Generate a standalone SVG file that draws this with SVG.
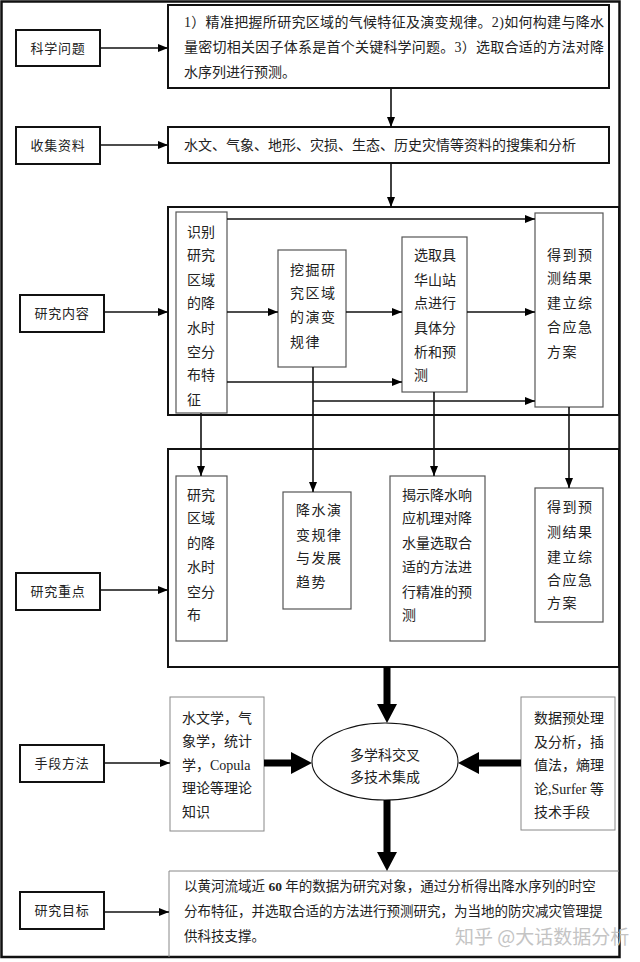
<svg xmlns="http://www.w3.org/2000/svg" width="640" height="962" viewBox="0 0 640 962">
<style>
.t{font-family:"Liberation Serif","Noto Sans CJK SC",serif;font-size:14px;fill:#222}
.lbl{font-family:"Liberation Serif","Noto Sans CJK SC",serif;font-size:13px;fill:#222;text-anchor:middle;letter-spacing:0.8px}
.sp{letter-spacing:1.5px}
.bk{fill:#fff;stroke:#111;stroke-width:2}
.cont{fill:none;stroke:#111;stroke-width:2}
.in{fill:#fff;stroke:#555;stroke-width:1.2}
.lt{fill:#fff;stroke:#888;stroke-width:1}
.c{fill:none;stroke:#111;stroke-width:1.6}
.thick{fill:#000}
.wm{font-family:"Noto Sans CJK SC",sans-serif;font-size:19px;fill:#c4c4c4}
</style>
<defs>
<marker id="ah" markerUnits="userSpaceOnUse" markerWidth="10" markerHeight="8" viewBox="0 0 10 8" refX="10" refY="4" orient="auto">
<path d="M0,0 L10,4 L0,8 z" fill="#000"/>
</marker>
</defs>
<rect x="0" y="0" width="640" height="962" fill="#fff"/>
<rect x="1.5" y="1.5" width="618" height="955.5" fill="none" stroke="#111" stroke-width="2.5"/>

<g id="containers">
<rect id="content-box" class="cont" x="168" y="207" width="451" height="208"/>
<rect id="focus-box" class="cont" x="168" y="449" width="451" height="218"/>
</g>

<g id="n-q-label"><rect class="bk" x="16" y="30" width="84" height="36"/><text class="lbl" x="58" y="53">科学问题</text></g>
<g id="n-c-label"><rect class="bk" x="16" y="127" width="84" height="37"/><text class="lbl" x="58" y="150">收集资料</text></g>
<g id="n-r-label"><rect class="bk" x="20" y="295" width="84" height="37"/><text class="lbl" x="62" y="318">研究内容</text></g>
<g id="n-f-label"><rect class="bk" x="16" y="573" width="84" height="37"/><text class="lbl" x="58" y="596">研究重点</text></g>
<g id="n-m-label"><rect class="bk" x="20" y="745" width="84" height="37"/><text class="lbl" x="62" y="768">手段方法</text></g>
<g id="n-g-label"><rect class="bk" x="20" y="892" width="84" height="37"/><text class="lbl" x="62" y="915">研究目标</text></g>

<g id="n-questions"><rect class="bk" x="168" y="5" width="441" height="83"/>
<text class="t" x="184" y="27" textLength="420" lengthAdjust="spacing">1）精准把握所研究区域的气候特征及演变规律。2)如何构建与降水</text>
<text class="t" x="184" y="52" textLength="420" lengthAdjust="spacing">量密切相关因子体系是首个关键科学问题。3）选取合适的方法对降</text>
<text class="t" x="184" y="77">水序列进行预测。</text></g>

<g id="n-collect"><rect class="bk" x="168" y="127" width="441" height="36"/>
<text class="t" x="184" y="150">水文、气象、地形、灾损、生态、历史灾情等资料的搜集和分析</text></g>

<g id="n-r1"><rect class="in" x="176" y="212" width="51" height="201"/>
<text class="t" x="187" y="237">识别</text><text class="t" x="187" y="260">研究</text><text class="t" x="187" y="285">区域</text><text class="t" x="187" y="308">的降</text><text class="t" x="187" y="333">水时</text><text class="t" x="187" y="357">空分</text><text class="t" x="187" y="380">布特</text><text class="t" x="187" y="405">征</text></g>
<g id="n-r2"><rect class="in" x="278" y="250" width="68" height="117"/>
<text class="t sp" x="290" y="275">挖掘研</text><text class="t sp" x="290" y="298">究区域</text><text class="t sp" x="290" y="322">的演变</text><text class="t sp" x="290" y="347">规律</text></g>
<g id="n-r3"><rect class="in" x="402" y="237" width="65" height="155"/>
<text class="t" x="414" y="260">选取具</text><text class="t" x="414" y="285">华山站</text><text class="t" x="414" y="308">点进行</text><text class="t" x="414" y="333">具体分</text><text class="t" x="414" y="357">析和预</text><text class="t" x="414" y="380">测</text></g>
<g id="n-r4"><rect class="in" x="535" y="213" width="68" height="194"/>
<text class="t sp" x="547" y="260">得到预</text><text class="t sp" x="547" y="283">测结果</text><text class="t sp" x="547" y="308">建立综</text><text class="t sp" x="547" y="332">合应急</text><text class="t sp" x="547" y="357">方案</text></g>

<g id="n-f1"><rect class="in" x="176" y="476" width="51" height="165"/>
<text class="t" x="187" y="500">研究</text><text class="t" x="187" y="523">区域</text><text class="t" x="187" y="548">的降</text><text class="t" x="187" y="572">水时</text><text class="t" x="187" y="597">空分</text><text class="t" x="187" y="620">布</text></g>
<g id="n-f2"><rect class="in" x="283" y="492" width="68" height="117"/>
<text class="t sp" x="296" y="515">降水演</text><text class="t sp" x="296" y="540">变规律</text><text class="t sp" x="296" y="563">与发展</text><text class="t sp" x="296" y="587">趋势</text></g>
<g id="n-f3"><rect class="in" x="390" y="476" width="95" height="165"/>
<text class="t" x="402" y="500">揭示降水响</text><text class="t" x="402" y="523">应机理对降</text><text class="t" x="402" y="548">水量选取合</text><text class="t" x="402" y="572">适的方法进</text><text class="t" x="402" y="597">行精准的预</text><text class="t" x="402" y="620">测</text></g>
<g id="n-f4"><rect class="in" x="535" y="488" width="68" height="134"/>
<text class="t sp" x="547" y="512">得到预</text><text class="t sp" x="547" y="537">测结果</text><text class="t sp" x="547" y="562">建立综</text><text class="t sp" x="547" y="585">合应急</text><text class="t sp" x="547" y="608">方案</text></g>

<g id="n-m-left"><rect class="lt" x="170" y="697" width="94" height="134"/>
<text class="t" x="182" y="723">水文学，气</text><text class="t" x="182" y="746">象学，统计</text><text class="t" x="182" y="770">学，Copula</text><text class="t" x="182" y="793">理论等理论</text><text class="t" x="182" y="817">知识</text></g>
<g id="n-ellipse"><ellipse cx="385" cy="761.5" rx="73" ry="38.5" fill="#fff" stroke="#111" stroke-width="1.1"/>
<text class="t" x="385" y="760" text-anchor="middle">多学科交叉</text><text class="t" x="385" y="782" text-anchor="middle">多技术集成</text></g>
<g id="n-m-right"><rect class="lt" x="521" y="697" width="94" height="133"/>
<text class="t" x="534" y="723">数据预处理</text><text class="t" x="534" y="747">及分析，插</text><text class="t" x="534" y="770">值法，熵理</text><text class="t" x="534" y="794">论,Surfer 等</text><text class="t" x="534" y="817">技术手段</text></g>

<g id="n-goal"><path d="M169,957 V871 H619" fill="none" stroke="#888" stroke-width="1"/>
<text class="t" x="184" y="891" style="font-size:13.5px">以黄河流域近 <tspan font-weight="bold">60</tspan> 年的数据为研究对象，通过分析得出降水序列的时空</text>
<text class="t" x="184" y="916" style="font-size:13.5px">分布特征，并选取合适的方法进行预测研究，为当地的防灾减灾管理提</text>
<text class="t" x="184" y="941" style="font-size:13.5px">供科技支撑。</text></g>

<g id="connectors">
<line class="c" x1="100" y1="48" x2="168" y2="48" marker-end="url(#ah)"/>
<line class="c" x1="100" y1="145" x2="168" y2="145" marker-end="url(#ah)"/>
<line class="c" x1="104" y1="312" x2="168" y2="312" marker-end="url(#ah)"/>
<line class="c" x1="100" y1="590" x2="168" y2="590" marker-end="url(#ah)"/>
<line class="c" x1="104" y1="763" x2="170" y2="763" marker-end="url(#ah)"/>
<line class="c" x1="104" y1="912" x2="169" y2="912" marker-end="url(#ah)"/>
<line class="c" x1="391" y1="88" x2="391" y2="127" marker-end="url(#ah)"/>
<line class="c" x1="391" y1="163" x2="391" y2="207" marker-end="url(#ah)"/>
<line class="c" x1="227" y1="219" x2="535" y2="219" marker-end="url(#ah)"/>
<line class="c" x1="227" y1="312" x2="278" y2="312" marker-end="url(#ah)"/>
<line class="c" x1="346" y1="312" x2="402" y2="312" marker-end="url(#ah)"/>
<line class="c" x1="467" y1="312" x2="535" y2="312" marker-end="url(#ah)"/>
<line class="c" x1="227" y1="382" x2="402" y2="382" marker-end="url(#ah)"/>
<line class="c" x1="313" y1="401" x2="535" y2="401" marker-end="url(#ah)"/>
<line class="c" x1="201" y1="413" x2="201" y2="476" marker-end="url(#ah)"/>
<line class="c" x1="313" y1="367" x2="313" y2="492" marker-end="url(#ah)"/>
<line class="c" x1="434" y1="392" x2="434" y2="476" marker-end="url(#ah)"/>
<line class="c" x1="569" y1="407" x2="569" y2="488" marker-end="url(#ah)"/>
<path class="thick" d="M383.5,667 H390.5 V704 H397 L387,723 L377,704 H383.5 Z"/>
<path class="thick" d="M264,759.5 V766.5 H291 V774 L312,763 L291,752 V759.5 Z"/>
<path class="thick" d="M521,759.5 V766.5 H479 V774 L458,763 L479,752 V759.5 Z"/>
<path class="thick" d="M383.5,800 H390.5 V852 H397 L387,871 L377,852 H383.5 Z"/>
</g>
<text class="wm" x="455" y="944">知乎 @大话数据分析</text>
</svg>
